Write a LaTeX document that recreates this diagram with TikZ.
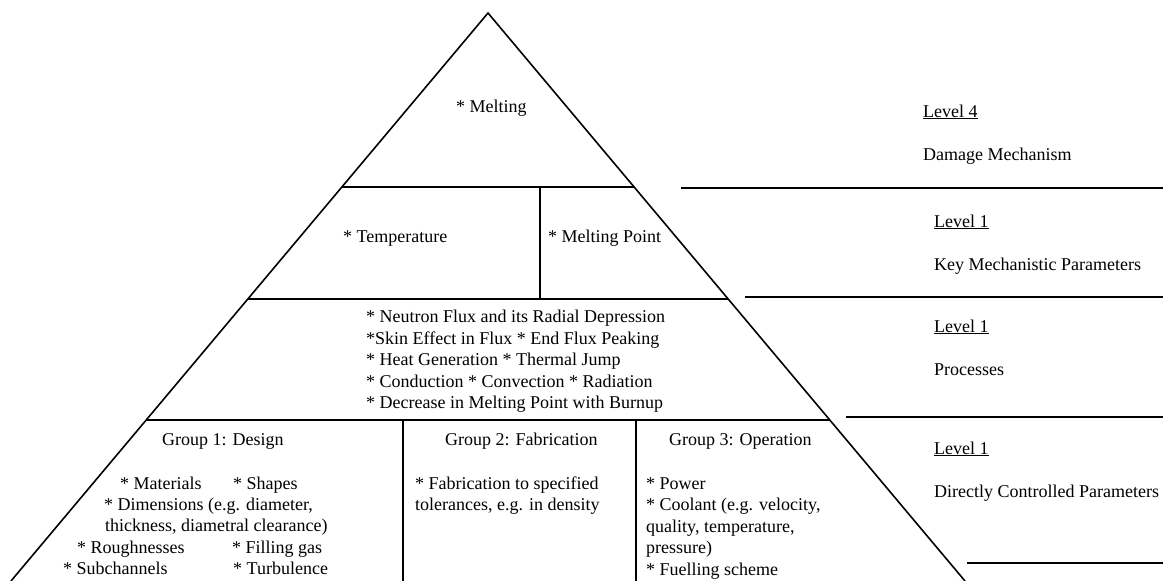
\documentclass[tikz,border=0pt]{standalone}
\usepackage{fontspec}
\setmainfont{Liberation Serif}
\usetikzlibrary{calc}

\begin{document}
\begin{tikzpicture}[x=1pt,y=-1pt,
  rule/.style={line width=1.6pt},
  txt/.style={inner sep=0pt, anchor=base west, font=\fontsize{18}{21.5}\selectfont}]
\useasboundingbox (0,0) rectangle (1163,581);
% pyramid
\coordinate (apex) at (488,13);
\coordinate (bl) at (11,581);
\coordinate (br) at (965,581);
\coordinate (l1) at ($(apex)!0.3063!(bl)$);
\coordinate (r1) at ($(apex)!0.3063!(br)$);
\coordinate (l2) at ($(apex)!0.5035!(bl)$);
\coordinate (r2) at ($(apex)!0.5035!(br)$);
\coordinate (l3) at ($(apex)!0.7165!(bl)$);
\coordinate (r3) at ($(apex)!0.7165!(br)$);
\draw [rule] (bl) -- (apex) -- (br);
\draw [rule] (l1) -- (r1);
\draw [rule] (l2) -- (r2);
\draw [rule] (l3) -- (r3);
\draw [rule] (540,187) -- (540,299);
\draw [rule] (403,420) -- (403,581);
\draw [rule] (636,420) -- (636,581);
% level lines
\draw [rule] (681,188) -- (1163,188);
\draw [rule] (745,297) -- (1163,297);
\draw [rule] (846,417) -- (1163,417);
\draw [rule] (967,563) -- (1163,563);

\node (melting) [txt] at (456,112) {* Melting};
\node (temp) [txt] at (343,242) {* Temperature};
\node (mpoint) [txt] at (548,242) {* Melting Point};
\node (procs) [txt] at (366,322.5) {
\begin{tabular}[t]{@{}l@{}}
{*} Neutron Flux and its Radial Depression \\
{*}Skin Effect in Flux * End Flux Peaking \\
{*} Heat Generation * Thermal Jump \\
{*} Conduction * Convection * Radiation \\
{*} Decrease in Melting Point with Burnup \\
\end{tabular}
};

\node (design) [txt] at (162,445) {Group 1: Design};
\node (materials) [txt] at (120,489) {* Materials};
\node (shapes) [txt] at (233,489) {* Shapes};
\node (dims) [txt] at (104,510) {
\begin{tabular}[t]{@{}l@{}}
{*} Dimensions (e.g. diameter, \\
\hspace{1pt}thickness, diametral clearance) \\
\end{tabular}
};
\node (rough) [txt] at (77,553) {* Roughnesses};
\node (filling) [txt] at (232,553) {* Filling gas};
\node (subch) [txt] at (63,574) {* Subchannels};
\node (turb) [txt] at (233,574) {* Turbulence};

\node (fabric) [txt] at (445,445) {Group 2: Fabrication};
\node (toler) [txt] at (415,489) {
\begin{tabular}[t]{@{}l@{}}
{*} Fabrication to specified \\
tolerances, e.g. in density \\
\end{tabular}
};

\node (operation) [txt] at (669,445) {Group 3: Operation};
\node (oplist) [txt] at (646,489) {
\begin{tabular}[t]{@{}l@{}}
{*} Power \\
{*} Coolant (e.g. velocity, \\
quality, temperature, \\
pressure) \\
{*} Fuelling scheme \\
\end{tabular}
};

% levels
\node (damage) [txt] at (923,117) {
\begin{tabular}[t]{@{}l@{}}
\underline{Level 4} \\
\\
Damage Mechanism \\
\end{tabular}
};
\node (keymech) [txt] at (934,227) {
\begin{tabular}[t]{@{}l@{}}
\underline{Level 1} \\
\\
Key Mechanistic Parameters \\
\end{tabular}
};
\node (process) [txt] at (934,332) {
\begin{tabular}[t]{@{}l@{}}
\underline{Level 1} \\
\\
Processes \\
\end{tabular}
};
\node (direct) [txt] at (934,454) {
\begin{tabular}[t]{@{}l@{}}
\underline{Level 1} \\
\\
Directly Controlled Parameters \\
\end{tabular}
};
\end{tikzpicture}
\end{document}
